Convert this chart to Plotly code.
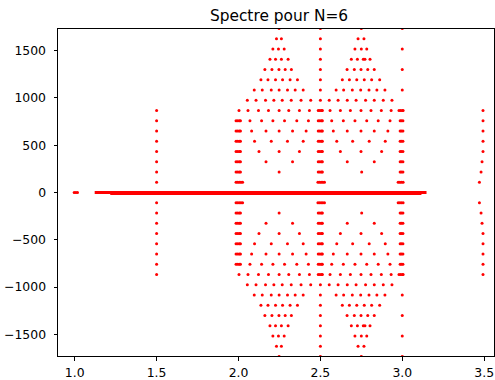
import plotly.graph_objects as go

# Energy levels (row k = 1..16), positive side; the spectrum is mirrored to negative values
levels = [108, 217, 325, 433, 542, 650, 758, 866, 975, 1083, 1191, 1300, 1408, 1516, 1625, 1733]

# Column at x = 1.5 (rows 1..8)
col_15 = {k: [1.5] for k in range(1, 9)}

# Column near x = 3.5 (rows 1..8)
col_35 = {1: [3.471], 2: [3.481], 3: [3.487], 4: [3.493], 5: [3.493], 6: [3.493], 7: [3.493], 8: [3.493]}

# Clustered column near x = 2.0
col_20 = {1: [1.985, 1.995, 2.005, 2.015, 2.025],
          2: [1.985, 1.995, 2.005, 2.012], 3: [1.985, 1.995, 2.005, 2.012],
          4: [1.985, 1.995, 2.005, 2.012], 5: [1.985, 1.995, 2.005, 2.012],
          6: [1.985, 1.995, 2.005, 2.012], 7: [1.985, 1.995, 2.005, 2.012],
          8: [2.003]}

# Clustered column near x = 2.5
col_25 = {1: [2.485, 2.495, 2.505, 2.515, 2.525],
          2: [2.487, 2.497, 2.507, 2.512], 3: [2.487, 2.497, 2.507, 2.512],
          4: [2.487, 2.497, 2.507, 2.512], 5: [2.487, 2.497, 2.507, 2.512],
          6: [2.487, 2.497, 2.507, 2.512], 7: [2.487, 2.497, 2.507, 2.512],
          8: [2.487, 2.497, 2.507, 2.512],
          9: [2.5], 10: [2.5], 11: [2.5], 12: [2.5], 13: [2.5], 14: [2.5], 15: [2.5], 16: [2.5]}

# Clustered column near x = 3.0
col_30 = {1: [2.975, 2.985, 2.995, 3.005],
          2: [2.987, 2.995, 3.004], 3: [2.987, 2.995, 3.004], 4: [2.987, 2.995, 3.004],
          5: [2.987, 2.995, 3.004], 6: [2.987, 2.995, 3.004], 7: [2.987, 2.995, 3.004],
          8: [2.980, 2.990, 3.000, 3.005],
          10: [3.0], 12: [3.0], 14: [3.0], 16: [3.0]}

# Diamond between 2.0 and 2.5
diamond_1 = {2: [2.248],
             3: [2.168, 2.330],
             4: [2.125, 2.248, 2.372],
             5: [2.098, 2.200, 2.299, 2.395],
             6: [2.080, 2.168, 2.248, 2.330, 2.413],
             7: [2.070, 2.141, 2.210, 2.281, 2.356, 2.427],
             8: [2.058, 2.122, 2.183, 2.248, 2.307, 2.372, 2.433],
             9: [2.054, 2.107, 2.165, 2.216, 2.267, 2.322, 2.382, 2.441],
             10: [2.096, 2.145, 2.200, 2.248, 2.299, 2.346, 2.395],
             11: [2.137, 2.180, 2.226, 2.269, 2.315, 2.360],
             12: [2.161, 2.204, 2.247, 2.285, 2.323],
             13: [2.192, 2.226, 2.262, 2.303],
             14: [2.210, 2.244, 2.279],
             15: [2.232, 2.262],
             16: [2.248]}

# Diamond between 2.5 and 3.0
diamond_2 = {2: [2.752],
             3: [2.664, 2.829],
             4: [2.622, 2.748, 2.874],
             5: [2.600, 2.697, 2.798, 2.896],
             6: [2.579, 2.664, 2.748, 2.829, 2.912],
             7: [2.569, 2.640, 2.711, 2.783, 2.853, 2.925],
             8: [2.559, 2.622, 2.683, 2.748, 2.809, 2.872, 2.932],
             9: [2.554, 2.608, 2.664, 2.718, 2.776, 2.829, 2.884, 2.937],
             10: [2.596, 2.642, 2.695, 2.746, 2.797, 2.845, 2.894],
             11: [2.634, 2.677, 2.722, 2.768, 2.813, 2.862],
             12: [2.663, 2.707, 2.748, 2.789, 2.829],
             13: [2.689, 2.726, 2.762, 2.772, 2.803],
             14: [2.711, 2.750, 2.783],
             15: [2.730, 2.766],
             16: [2.750]}

# Zero-energy states
zero_points_x = [0.997, 1.007, 1.017]
zero_band_upper_x = [1.122, 3.148]
zero_band_lower_x = [1.217, 3.117]
zero_band_lower_y = -10

xs, ys = [], []
for group in [col_15, col_35, col_20, col_25, col_30, diamond_1, diamond_2]:
    for k, xlist in group.items():
        e = levels[k - 1]
        for x in xlist:
            xs += [x, x]
            ys += [e, -e]
xs += zero_points_x
ys += [0] * len(zero_points_x)

fig = go.Figure()
fig.add_trace(go.Scatter(x=zero_band_upper_x, y=[0, 0], mode="lines",
                         line=dict(color="red", width=3), hoverinfo="skip"))
fig.add_trace(go.Scatter(x=zero_band_lower_x, y=[zero_band_lower_y] * 2, mode="lines",
                         line=dict(color="red", width=3), hoverinfo="skip"))
fig.add_trace(go.Scatter(x=xs, y=ys, mode="markers",
                         marker=dict(color="red", size=3, line=dict(width=0))))

axis_common = dict(showgrid=False, zeroline=False, showline=True, linecolor="black",
                   linewidth=1, mirror=True, ticks="outside", ticklen=3.5, tickwidth=1,
                   tickcolor="black", tickfont=dict(family="DejaVu Sans", size=12.4, color="black"))

fig.update_layout(
    width=495, height=380,
    margin=dict(l=58, r=0, t=29, b=22),
    paper_bgcolor="white", plot_bgcolor="white",
    showlegend=False,
    title=dict(text="Spectre pour N=6", x=279 / 495, xref="container", y=1 - 16 / 380,
               yref="container", xanchor="center", yanchor="middle",
               font=dict(family="DejaVu Sans", size=15.4, color="black")),
    xaxis=dict(range=[0.898, 3.56], tickvals=[1.0, 1.5, 2.0, 2.5, 3.0, 3.5],
               tickformat=".1f", ticklabelstandoff=2, **axis_common),
    yaxis=dict(range=[-1728, 1728], tickvals=[-1500, -1000, -500, 0, 500, 1000, 1500],
               ticklabelstandoff=5, **axis_common),
)

fig.write_html("out.html")
